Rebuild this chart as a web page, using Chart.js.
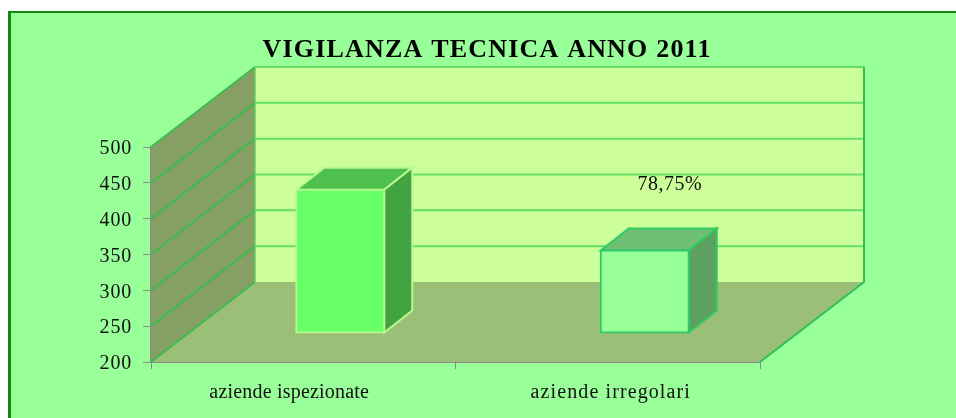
<!DOCTYPE html>
<html>
<head>
<meta charset="utf-8">
<style>
html,body{margin:0;padding:0;background:#fff;overflow:hidden;}
#frame{position:absolute;left:8px;top:11px;right:0;bottom:0;background:#99ff99;border-left:3px solid #128a12;border-top:2px solid #128a12;}
#wrap{position:absolute;left:0;top:0;width:956px;height:418px;}
</style>
</head>
<body>
<div id="frame"></div>
<div id="wrap"><canvas id="chart" width="956" height="418"></canvas></div>
<script src="https://cdn.jsdelivr.net/npm/chart.js@4"></script>
<script>
const categories = ["aziende ispezionate","aziende irregolari"];
const values = [400,315];
const yTicks = [200,250,300,350,400,450,500];
const titleText = "VIGILANZA TECNICA ANNO 2011";
const percentLabel = "78,75%";

const fontName = "'Liberation Serif', serif";

/* depth of the box and how far the bars sit in it */
const depthX = 104, depthY = -80;
const barDepthX = 28, barDepthY = -22;
const barShiftX = 37, barShiftY = -29;
const labelNudge = [-14,3];
const labelSpacing = ["0.2px","1.1px"];

const barFront = ["#66ff66","#99ff99"];
const barBorder = ["#b6f98c","#2ccb66"];
const barTop = ["#4fc04f","#6fc074"];
const barSide = ["#43a343","#5ea05f"];

function poly(c,pts,fill,stroke,w){
  c.beginPath();
  pts.forEach((p,i)=>i?c.lineTo(p[0],p[1]):c.moveTo(p[0],p[1]));
  c.closePath();
  if(fill){c.fillStyle=fill;c.fill();}
  if(stroke){c.strokeStyle=stroke;c.lineWidth=w||1;c.stroke();}
}

/* walls, floor and the grid lines that go round them */
const box3d = {
  id:"box3d",
  beforeDatasetsDraw(chart){
    const c = chart.ctx, a = chart.chartArea, y = chart.scales.y;
    const L=a.left,R=a.right,T=a.top,B=a.bottom;
    c.save();
    poly(c,[[L+depthX,T+depthY],[R+depthX,T+depthY],[R+depthX,B+depthY],[L+depthX,B+depthY]],"#ccff99");
    poly(c,[[L,T],[L+depthX,T+depthY],[L+depthX,B+depthY],[L,B]],"#869f65");
    poly(c,[[L,B],[L+depthX,B+depthY],[R+depthX,B+depthY],[R,B]],"#9cbf78");
    yTicks.forEach(v=>{
      const py = y.getPixelForValue(v);
      if(v>200){
        c.strokeStyle="#66dd66";c.lineWidth=2;
        c.beginPath();c.moveTo(L+depthX,py+depthY);c.lineTo(R+depthX,py+depthY);c.stroke();
      }
      c.strokeStyle="#3cbc4c";c.lineWidth=2;
      c.beginPath();c.moveTo(L,py);c.lineTo(L+depthX,py+depthY);c.stroke();
    });
    c.strokeStyle="#2fc05a";c.lineWidth=2;
    c.beginPath();c.moveTo(R,B);c.lineTo(R+depthX,B+depthY);c.lineTo(R+depthX,T+depthY);c.stroke();
    c.strokeStyle="#66cc66";c.lineWidth=1.5;
    c.beginPath();c.moveTo(L+depthX,T+depthY);c.lineTo(L+depthX,B+depthY);c.stroke();
    c.restore();
  },
  beforeDatasetDraw(chart){
    const c = chart.ctx;
    c.save();
    c.translate(barShiftX,barShiftY);
    chart.getDatasetMeta(0).data.forEach((bar,i)=>{
      const l=bar.x-bar.width/2,r=bar.x+bar.width/2,t=bar.y,b=bar.base;
      poly(c,[[l,t],[l+barDepthX,t+barDepthY],[r+barDepthX,t+barDepthY],[r,t]],barTop[i],barBorder[i],2);
      poly(c,[[r,t],[r+barDepthX,t+barDepthY],[r+barDepthX,b+barDepthY],[r,b]],barSide[i],barBorder[i],2);
    });
  },
  afterDatasetDraw(chart){
    chart.ctx.restore();
  },
  afterDraw(chart){
    const c = chart.ctx, x = chart.scales.x, y = chart.scales.y, bar = chart.getDatasetMeta(0).data[1];
    c.save();
    c.fillStyle="#111";
    c.font="20px "+fontName;
    c.textBaseline="middle";
    c.textAlign="right";
    c.letterSpacing="0.8px";
    yTicks.forEach(v=>{
      c.fillText(String(v),132,y.getPixelForValue(v)+2);
    });
    c.textAlign="center";
    c.letterSpacing="0.5px";
    c.fillText(percentLabel,bar.x+barShiftX+25,bar.y+barShiftY-66);
    c.textBaseline="alphabetic";
    categories.forEach((name,i)=>{
      c.letterSpacing=labelSpacing[i];
      c.fillText(name,x.getPixelForValue(i)+labelNudge[i],398);
    });
    c.fillStyle="#000";
    c.font="bold 26px "+fontName;
    c.letterSpacing="1.2px";
    c.fillText(titleText,487,57);
    c.restore();
  }
};

new Chart(document.getElementById("chart"),{
  type:"bar",
  data:{
    labels:categories,
    datasets:[{
      data:values,
      base:200,
      backgroundColor:barFront,
      borderColor:barBorder,
      borderWidth:2,
      borderSkipped:false,
      inflateAmount:1,
      barPercentage:.289,
      categoryPercentage:1,
      clip:false
    }]
  },
  options:{
    responsive:false,
    animation:false,
    layout:{padding:{left:0,right:196,top:147,bottom:56}},
    plugins:{
      legend:{display:false},
      tooltip:{enabled:false},
      title:{display:false}
    },
    scales:{
      x:{
        afterFit(axis){axis.height=0;},
        grid:{drawOnChartArea:false,color:"#8c8c8c",tickLength:7},
        border:{color:"#8c8c8c",width:2},
        ticks:{display:false}
      },
      y:{
        min:200,max:500,
        afterBuildTicks(axis){axis.ticks=yTicks.map(v=>({value:v}));},
        afterFit(axis){axis.width=151;},
        grid:{drawOnChartArea:false,color:"#8c8c8c",tickLength:8},
        border:{color:"#8c8c8c",width:2},
        ticks:{display:false}
      }
    }
  },
  plugins:[box3d]
});
</script>
</body>
</html>
